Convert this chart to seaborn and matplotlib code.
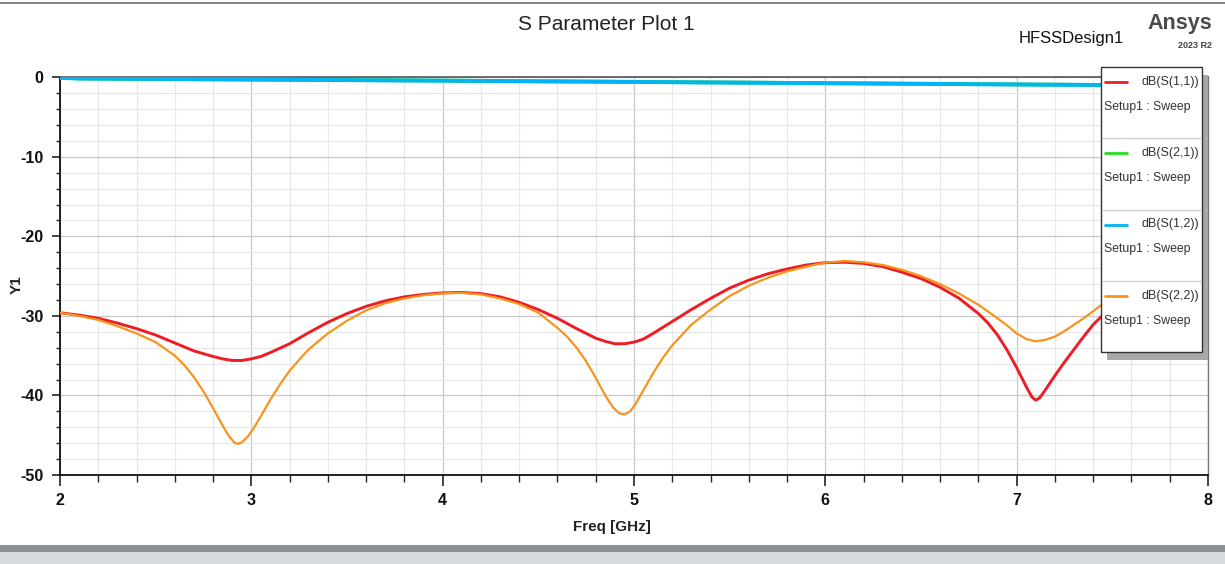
import numpy as np
import pandas as pd
import matplotlib
matplotlib.use("Agg")
import matplotlib.pyplot as plt
import seaborn as sns
from matplotlib.patches import Rectangle
from matplotlib.lines import Line2D
from matplotlib.ticker import MultipleLocator

# ---------------- data ----------------
freq_s11 = [2.0, 2.1, 2.2, 2.3, 2.4, 2.5, 2.6, 2.7, 2.8, 2.85, 2.9, 2.95, 3.0, 3.05, 3.1, 3.2,
            3.3, 3.4, 3.5, 3.6, 3.7, 3.8, 3.9, 4.0, 4.1, 4.2, 4.3, 4.4, 4.5, 4.6, 4.7, 4.8,
            4.85, 4.9, 4.95, 5.0, 5.05, 5.1, 5.2, 5.3, 5.4, 5.5, 5.6, 5.7, 5.8, 5.9, 6.0, 6.1,
            6.2, 6.3, 6.4, 6.5, 6.6, 6.7, 6.8, 6.85, 6.9, 6.95, 7.0, 7.05, 7.08, 7.10, 7.12,
            7.15, 7.2, 7.25, 7.3, 7.35, 7.4, 7.45, 7.5, 7.6, 7.7, 7.8, 7.9, 8.0]
db_s11 = [-29.6, -29.9, -30.3, -30.9, -31.6, -32.4, -33.4, -34.4, -35.1, -35.4, -35.6, -35.6,
          -35.4, -35.1, -34.6, -33.5, -32.1, -30.8, -29.7, -28.8, -28.1, -27.6, -27.3, -27.1,
          -27.05, -27.2, -27.6, -28.3, -29.2, -30.3, -31.6, -32.8, -33.2, -33.5, -33.5, -33.3,
          -32.9, -32.2, -30.7, -29.2, -27.8, -26.5, -25.5, -24.7, -24.1, -23.6, -23.3, -23.25,
          -23.4, -23.8, -24.5, -25.3, -26.4, -27.8, -29.7, -30.9, -32.4, -34.3, -36.5, -38.9,
          -40.2, -40.6, -40.3, -39.3, -37.5, -35.8, -34.2, -32.6, -31.1, -29.9, -28.8, -26.9,
          -25.5, -24.5, -24.0, -23.7]

freq_s22 = [2.0, 2.1, 2.2, 2.3, 2.4, 2.5, 2.6, 2.65, 2.7, 2.75, 2.8, 2.85, 2.88, 2.91, 2.93,
            2.95, 2.98, 3.01, 3.05, 3.1, 3.15, 3.2, 3.25, 3.3, 3.4, 3.5, 3.6, 3.7, 3.8, 3.9,
            4.0, 4.1, 4.2, 4.3, 4.4, 4.5, 4.6, 4.65, 4.7, 4.75, 4.8, 4.85, 4.89, 4.92, 4.95,
            4.98, 5.01, 5.05, 5.1, 5.15, 5.2, 5.3, 5.4, 5.5, 5.6, 5.7, 5.8, 5.9, 6.0, 6.1,
            6.2, 6.3, 6.4, 6.5, 6.6, 6.7, 6.8, 6.9, 6.95, 7.0, 7.05, 7.1, 7.15, 7.2, 7.25,
            7.3, 7.35, 7.4, 7.45, 7.5, 7.6, 7.7, 7.8, 7.9, 8.0]
db_s22 = [-29.6, -30.0, -30.5, -31.3, -32.2, -33.3, -35.0, -36.2, -37.7, -39.5, -41.6, -43.8,
          -45.0, -45.9, -46.1, -45.9, -45.2, -44.2, -42.6, -40.5, -38.6, -36.9, -35.5, -34.2,
          -32.2, -30.6, -29.3, -28.4, -27.8, -27.4, -27.15, -27.1, -27.3, -27.8, -28.5, -29.6,
          -31.5, -32.6, -34.0, -35.7, -37.8, -40.0, -41.5, -42.2, -42.4, -42.0, -41.0, -39.3,
          -37.2, -35.3, -33.7, -31.1, -29.2, -27.5, -26.2, -25.2, -24.4, -23.8, -23.3, -23.1,
          -23.25, -23.6, -24.2, -25.0, -26.0, -27.2, -28.6, -30.3, -31.2, -32.2, -32.9, -33.2,
          -33.0, -32.6, -31.9, -31.1, -30.3, -29.4, -28.5, -27.8, -26.6, -25.6, -24.9, -24.4,
          -24.0]

freq_s21 = [2.0, 2.1, 3.0, 4.0, 5.0, 6.0, 7.0, 8.0]
db_s21 = [-0.05, -0.15, -0.28, -0.42, -0.58, -0.74, -0.90, -1.05]
freq_s12 = [2.0, 2.1, 3.0, 4.0, 5.0, 6.0, 7.0, 8.0]
db_s12 = [-0.05, -0.15, -0.28, -0.42, -0.58, -0.74, -0.90, -1.05]

trace_names = ["dB(S(1,1))", "dB(S(2,1))", "dB(S(1,2))", "dB(S(2,2))"]
trace_colors = ["#ee1c25", "#22e01e", "#00b4f5", "#f7941d"]
x_ticks = [2, 3, 4, 5, 6, 7, 8]
y_ticks = [0, -10, -20, -30, -40, -50]

# ---------------- figure ----------------
W, H = 1225, 564
def fx(x): return x / W
def fy(y): return 1 - y / H

sns.set_style("white")
plt.rcParams['font.family'] = ['Liberation Sans', 'DejaVu Sans']
plt.rcParams['axes.unicode_minus'] = False

fig = plt.figure(figsize=(12.25, 5.64), dpi=100)
fig.patch.set_facecolor("white")
ax_l, ax_r, ax_t, ax_b = 60, 1208, 77.3, 475
ax = fig.add_axes([fx(ax_l), fy(ax_b), fx(ax_r) - fx(ax_l), fy(ax_t) - fy(ax_b)])

series = [
    (freq_s21, db_s21, 1, 2.8),
    (freq_s12, db_s12, 2, 2.8),
    (freq_s11, db_s11, 0, 2.1),
    (freq_s22, db_s22, 3, 1.6),
]
for fr, db, idx, lw in series:
    df = pd.DataFrame({"Freq": fr, "dB": db})
    sns.lineplot(data=df, x="Freq", y="dB", ax=ax, color=trace_colors[idx],
                 linewidth=lw, estimator=None, sort=False, legend=False, zorder=3 + idx * 0.1)

ax.set_xlim(2, 8)
ax.set_ylim(-50, 0)
ax.set_xticks(x_ticks)
ax.set_yticks(y_ticks)
ax.set_xticklabels([str(v) for v in x_ticks])
ax.set_yticklabels([str(v) for v in y_ticks])
ax.xaxis.set_minor_locator(MultipleLocator(0.2))
ax.yaxis.set_minor_locator(MultipleLocator(2))
ax.grid(which="major", color="#c9c9c9", linewidth=0.9, zorder=0)
ax.grid(which="minor", color="#e8e8e8", linewidth=0.9, zorder=0)
ax.set_axisbelow(True)

for lbl in ax.get_xticklabels() + ax.get_yticklabels():
    lbl.set_fontweight("bold")
    lbl.set_fontsize(11.5)
    lbl.set_color("#111111")
ax.tick_params(axis="x", which="major", length=8, width=1.2, direction="out", pad=5, color="#222222")
ax.tick_params(axis="x", which="minor", length=5, width=1.0, direction="out", color="#222222")
ax.tick_params(axis="y", which="major", length=6, width=1.2, direction="out", pad=6, color="#222222")
ax.tick_params(axis="y", which="minor", length=3, width=1.0, direction="out", color="#222222")
ax.xaxis.set_ticks_position("bottom")
ax.yaxis.set_ticks_position("left")

for side in ["left", "bottom"]:
    ax.spines[side].set_color("#111111")
    ax.spines[side].set_linewidth(1.3)
ax.spines["top"].set_color("#555555")
ax.spines["top"].set_linewidth(1.2)
ax.spines["right"].set_color("#777777")
ax.spines["right"].set_linewidth(1.0)

ax_w = ax_r - ax_l
ax_h = ax_b - ax_t
ax.set_xlabel("Freq [GHz]", fontsize=11, fontweight="bold", color="#222222")
ax.xaxis.set_label_coords((612 - ax_l) / ax_w, -(520 - ax_b) / ax_h)
ax.set_ylabel("Y1", fontsize=11, fontweight="bold", color="#222222")
ax.yaxis.set_label_coords((24 - ax_l) / ax_w, (ax_b - 285) / ax_h)

# titles
fig.text(fx(606), fy(24), "S Parameter Plot 1", ha="center", va="center", fontsize=15, color="#222222")
fig.text(fx(1071), fy(38), "HFSSDesign1", ha="center", va="center", fontsize=12, color="#111111")
fig.text(fx(1212), fy(24), "Ansys", ha="right", va="center", fontsize=15.5, fontweight="bold",
         color="#4a4a4a")
fig.text(fx(1212), fy(45), "2023 R2", ha="right", va="center", fontsize=6.5, fontweight="bold",
         color="#444444")

# top frame line and bottom window bar
fig.add_artist(Line2D([0, 1], [fy(2.5), fy(2.5)], color="#707070", linewidth=1.2))
fig.add_artist(Rectangle((0, fy(552)), 1, fy(545) - fy(552), facecolor="#8c9097",
                         edgecolor="none"))
fig.add_artist(Rectangle((0, 0), 1, fy(552), facecolor="#d6d9de", edgecolor="none"))

# legend box (drawn like HFSS)
lx0, lx1, ly0, ly1 = 1101, 1202, 67, 352
fig.add_artist(Rectangle((fx(lx0 + 6), fy(ly1 + 8)), fx(lx1) - fx(lx0), fy(ly0) - fy(ly1),
                         facecolor="#a8a8a8", edgecolor="none", zorder=10))
fig.add_artist(Rectangle((fx(lx0), fy(ly1)), fx(lx1) - fx(lx0), fy(ly0) - fy(ly1),
                         facecolor="white", edgecolor="#333333", linewidth=1.0, zorder=11))
entry_h = (ly1 - ly0) / 4.0
for i, (name, col) in enumerate(zip(trace_names, trace_colors)):
    top = ly0 + i * entry_h
    if i > 0:
        fig.add_artist(Line2D([fx(lx0 + 1), fx(lx1 - 1)], [fy(top), fy(top)], color="#cfcfcf",
                              linewidth=1.0, zorder=12))
    yline = top + 15
    fig.add_artist(Line2D([fx(1105), fx(1127)], [fy(yline), fy(yline)], color=col,
                          linewidth=2.0, zorder=12))
    fig.text(fx(1199), fy(yline), name, ha="right", va="center", fontsize=9,
             color="#333333", zorder=12)
    fig.text(fx(1104), fy(top + 40), "Setup1 : Sweep", ha="left", va="center", fontsize=8.8,
             color="#333333", zorder=12)

fig.savefig("out.png", dpi=100, facecolor="white")
